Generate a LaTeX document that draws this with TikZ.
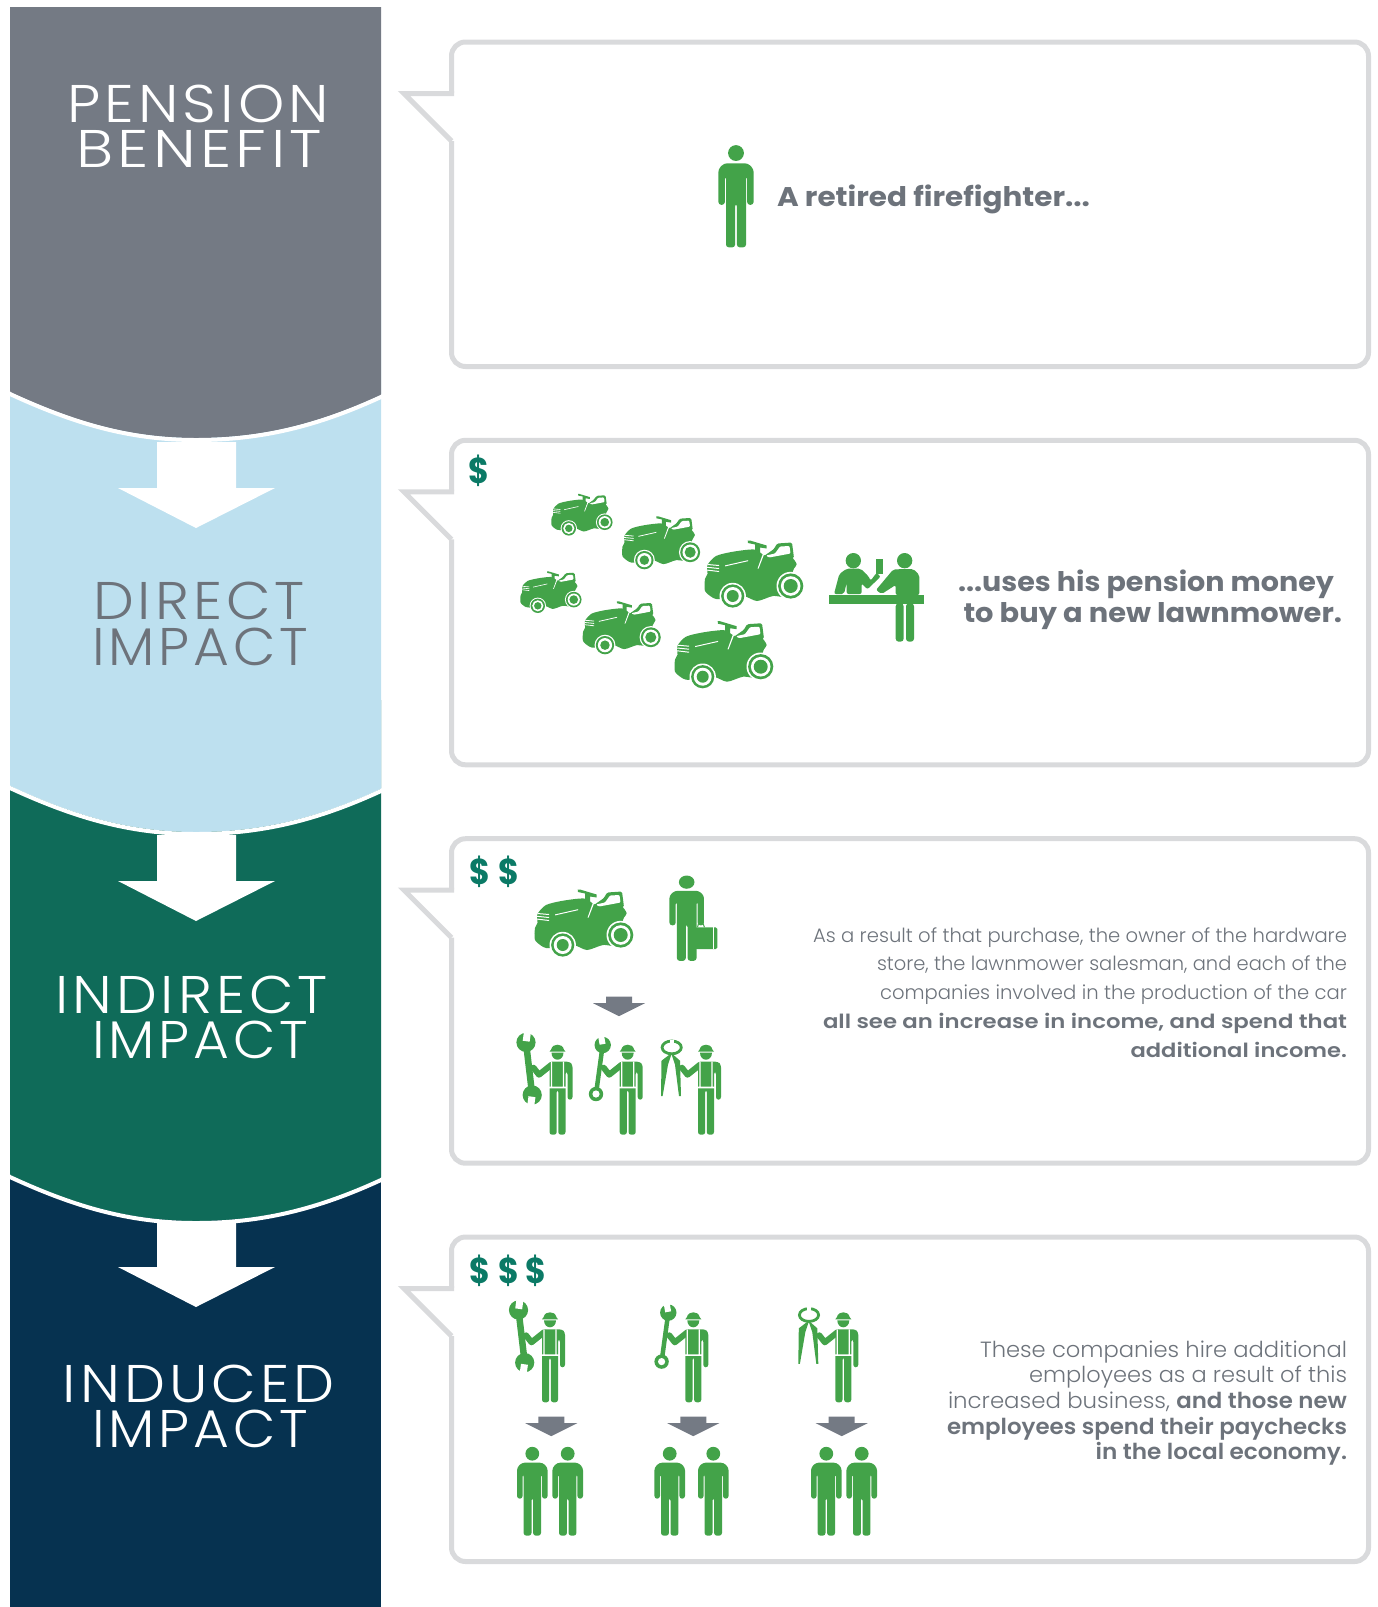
\documentclass[tikz,border=0pt]{standalone}
\usepackage{fontspec}
\usepackage{graphicx}
\setmainfont{Poppins}
\newfontfamily\flight{Poppins Light}
\newfontfamily\ftitle{Poppins Light}[LetterSpace=7]
\newfontfamily\fsemi{Poppins SemiBold}
\newfontfamily\fbold{Poppins Bold}
\definecolor{cgray}{HTML}{747A84}
\definecolor{cblue}{HTML}{BDE0EF}
\definecolor{cteal}{HTML}{0F6B59}
\definecolor{cnavy}{HTML}{063250}
\definecolor{ctext}{HTML}{6D737B}
\definecolor{cline}{HTML}{D9DADC}
\definecolor{cico}{HTML}{43A349}
\definecolor{cdol}{HTML}{0B7A66}
\newcommand\fitw[2]{\resizebox{#1pt}{\height}{#2}}
\newcommand\titlefont{\fontsize{53}{53}\selectfont\ftitle}
\newcommand\bodyfont{\fontsize{19.5}{20}\selectfont\flight}
\newcommand\bodyfontb{\fontsize{22}{22}\selectfont\flight}
\newcommand\bb[1]{{\fsemi #1}}
\tikzset{
  ttl/.style={anchor=base west,inner sep=0pt,outer sep=0pt},
  boxline/.style={draw=cline,line width=5pt},
  ico/.style={fill=cico},
  dollar/.style={anchor=base west,inner sep=0pt,text=cdol,font=\fontsize{36}{36}\selectfont\fbold},
  person/.pic={
    \fill[ico] (0,7) circle (6.9);
    \fill[ico,rounded corners=2.8pt] (-15.3,21) -- (-10.5,16) -- (10.5,16) -- (15.3,21) -- (15.3,52) -- (9.7,52) -- (9.7,27) -- (8.7,27) -- (8.7,89) -- (0.8,89) -- (0.8,51) -- (-0.8,51) -- (-0.8,89) -- (-8.7,89) -- (-8.7,27) -- (-9.7,27) -- (-9.7,52) -- (-15.3,52) -- cycle;
  },
  worker/.pic={
    \fill[ico] (-8,7) -- (-6.5,5) .. controls (-5.5,1) and (-2.5,0) .. (0,0) .. controls (2.5,0) and (5.5,1) .. (6.5,5) -- (8,7) -- cycle;
    \fill[ico] (-6,8) .. controls (-6,12.5) and (-3,15) .. (0,15) .. controls (3,15) and (6,12.5) .. (6,8) -- cycle;
    \fill[ico,rounded corners=2.6pt] (-8,17) -- (12,17) -- (15,20) -- (15,55) -- (10,55) -- (10,27) -- (8,27) -- (8,90) -- (0.8,90) -- (0.8,45) -- (-0.8,45) -- (-0.8,90) -- (-8,90) -- cycle;
    \draw[cico,line width=6pt,line cap=round,line join=round] (-6,20) -- (-18.5,30) -- (-24,23);
    \fill[white] (-6.6,17) rectangle (-5.4,42) (5.4,17) rectangle (6.6,42) (-9,42) rectangle (9,43.6);
  },
  wrencha/.pic={
    \draw[cico,line width=6.5pt] (-31.5,-2.3) -- (-25.3,50.3);
    \fill[ico] (-31.5,-2.3) circle (9.6) (-25.3,50.3) circle (9.6);
    \fill[white,rotate around={-8:(-31.5,-2.3)}] (-35,-13) rectangle (-28,-3.5);
    \fill[white,rotate around={-8:(-25.3,50.3)}] (-28.8,52) rectangle (-21.8,62);
  },
  wrenchb/.pic={
    \draw[cico,line width=4.5pt] (-25,0.3) -- (-31.7,49.3);
    \fill[ico] (-25,0.3) circle (8.2) (-31.7,49.3) circle (7.2);
    \fill[white,rotate around={10:(-25,0.3)}] (-28,-10) rectangle (-22,-0.5);
    \fill[white] (-31.7,49.3) circle (3.6);
  },
  pliers/.pic={
    \draw[cico,line width=2.8pt] (-34.3,2.7) ellipse (9.6 and 6.4);
    \fill[white] (-36.5,-5) rectangle (-32,0);
    \fill[ico] (-34,8) -- (-44.5,16) -- (-45,51.5) -- (-43.4,51.5) -- (-38,20) -- cycle;
    \fill[ico] (-35,8) -- (-26,16) -- (-25,51.5) -- (-27,51.5) -- (-31,20) -- cycle;
  },
  mower/.pic={
    \fill[ico,rounded corners=1.5pt] (60,15) -- (70,8) -- (73,2.5) -- (88,1.5) -- (90,17) -- (70,24) -- cycle;
    \fill[ico] (43.7,-0.5) -- (46,-0.5) -- (62.7,4.5) -- (62.7,7.5) -- (56,6.5) -- (56,12) -- (51,12) -- (51,3.5) -- (44,2) -- cycle;
    \fill[ico] plot[smooth cycle,tension=0.45] coordinates {(3.5,24) (12,15) (29,10.7) (50,8.5) (60,14) (72,17) (86,15) (92.7,23.3) (89,30) (86,55) (69,55) (53,60) (39,55) (16,58) (9.3,57) (1,50) (1,38) (3.5,33)};
    \fill[white,rounded corners=1pt] (62,14.5) -- (71,12.5) -- (76,5.5) -- (85.5,5) -- (86.5,12.5) -- (76,14.5) -- (65,16.5) -- cycle;
    \fill[white] (59.5,11) -- (61,11) -- (54.5,27.7) -- (53.5,27.7) -- cycle;
    \fill[white] (21,24.4) -- (44,19.2) -- (44,20.2) -- (21,25.4) -- cycle;
    \fill[white] (3.5,23) -- (15,24) -- (15,25) -- (3.5,24) -- cycle (3.2,25.8) -- (15,27) -- (15,28) -- (3.2,26.8) -- cycle (3.2,28.6) -- (15,30) -- (15,31) -- (3.2,29.6) -- cycle;
    \fill[white] (86.7,45) circle (14.2) (28.7,55) circle (13.2);
    \fill[ico] (86.7,45) circle (12.6) (28.7,55) circle (11.6);
    \fill[white] (86.7,45) circle (9.8) (28.7,55) circle (9);
    \fill[ico] (86.7,45) circle (7) (28.7,55) circle (6);
  },
  grayarrow/.pic={
    \fill[cgray] (-13,0) -- (13,0) -- (13,6.5) -- (26,6.5) -- (0,19.5) -- (-26,6.5) -- (-13,6.5) -- cycle;
  }
}
\newcommand\callout[1]{%
  \begin{scope}[shift={(0,#1)}]
    \draw[boxline,rounded corners=14pt] (451.5,51) -- (451.5,0) -- (1368.5,0) -- (1368.5,324.5) -- (451.5,324.5) -- (451.5,99);
    \draw[boxline,line join=miter] (451.5,99) -- (404,51.5) -- (454,51.5);
  \end{scope}}
\newcommand\whitearrow[1]{\fill[white] (157,#1) -- (236,#1) -- (236,#1+46) -- (275,#1+46) -- (196,#1+86) -- (118,#1+46) -- (157,#1+46) -- cycle;}
\newcommand\dlr{\scalebox{.88}[1]{\$}}
\begin{document}
\begin{tikzpicture}[x=1pt,y=-1pt]
\useasboundingbox (0,0) rectangle (1378,1607);
% column
\fill[cnavy] (10,1100) rectangle (381,1607);
\newcommand\sect[3]{% color, top, delta
  \fill[#1] (10,#2) -- (381,#2) -- (381,395+#3) .. controls (318,424+#3) and (262,438+#3) .. (196,438+#3) .. controls (130,438+#3) and (75,422+#3) .. (10,392+#3) -- cycle;
  \draw[white,line width=4pt] (5,390+#3) -- (10,394+#3) .. controls (75,424+#3) and (130,440+#3) .. (196,440+#3) .. controls (262,440+#3) and (318,426+#3) .. (381,397+#3) -- (386,394+#3);
}
\sect{cteal}{700}{783}
\sect{cblue}{300}{394}
\sect{cgray}{7}{0}
\whitearrow{442}
\whitearrow{835}
\whitearrow{1221}
% titles
\node[ttl,text=white] (t1a) at (67,122) {\fitw{262}{\titlefont PENSION}};
\node[ttl,text=white] (t1b) at (76,167) {\fitw{246}{\titlefont BENEFIT}};
\node[ttl,text=ctext] (t2a) at (93,619.5) {\fitw{212}{\titlefont DIRECT}};
\node[ttl,text=ctext] (t2b) at (92,665) {\fitw{216}{\titlefont IMPACT}};
\node[ttl,text=white] (t3a) at (55,1013.5) {\fitw{273}{\titlefont INDIRECT}};
\node[ttl,text=white] (t3b) at (92,1058.5) {\fitw{216}{\titlefont IMPACT}};
\node[ttl,text=white] (t4a) at (63,1402.5) {\fitw{272}{\titlefont INDUCED}};
\node[ttl,text=white] (t4b) at (92,1447.5) {\fitw{216}{\titlefont IMPACT}};
% callouts
\callout{42}
\callout{440.3}
\callout{838.7}
\callout{1237}
% box 1
\pic[scale=1.15] at (736,145) {person};
\node[ttl,text=ctext] (b1) at (777,206) {\fitw{313}{\fontsize{27}{27}\selectfont\fbold A retired firefighter...}};
% box 2
\node[dollar] (d1) at (468.5,483.5) {\dlr};
\pic at (551,494.3) [scale=.62] {mower};
\pic at (621.7,516.7) [scale=.79] {mower};
\pic at (704,541) {mower};
\pic at (520,571.7) [scale=.62] {mower};
\pic at (582.3,601.7) [scale=.79] {mower};
\pic at (674,621.7) {mower};
\begin{scope}[shift={(500,470)},scale=1/3]
  \fill[ico] (1060,272) circle (23) (1214,272) circle (23);
  \fill[ico] (1128,267) rectangle (1148,313);
  \fill[ico] (987,375) rectangle (1272,402);
  \fill[ico,rounded corners=2pt] (1002,372) -- (1018,312) -- (1040,296) -- (1082,296) -- (1105,318) -- (1112,332) -- (1130,308) -- (1142,320) -- (1102,358) -- (1085,340) -- (1085,372) -- (1040,372) -- (1040,338) -- (1032,372) -- cycle;
  \fill[ico,rounded corners=2pt] (1180,298) -- (1240,297) -- (1258,315) -- (1258,375) -- (1187,375) -- (1187,345) -- (1145,372) -- (1128,360) -- cycle;
  \fill[ico,rounded corners=3pt] (1187,400) rectangle (1211,515) (1218,400) rectangle (1242,515);
\end{scope}
\node[ttl,text=ctext] (b2a) at (958,591) {\fitw{376}{\fontsize{27}{27}\selectfont\fbold ...uses his pension money}};
\node[ttl,text=ctext] (b2b) at (963.5,622) {\fitw{378.5}{\fontsize{27}{27}\selectfont\fbold to buy a new lawnmower.}};
% box 3
\node[dollar] (d2a) at (469.5,884) {\dlr};
\node[dollar] (d2b) at (498.5,884) {\dlr};
\pic at (534,890) {mower};
\pic[xscale=1.13,yscale=.96] at (686.7,875.4) {person};
\fill[ico,rounded corners=1.5pt] (695,927.3) rectangle (717.3,949);
\fill[white] (712.6,927.3) rectangle (713.3,949);
\draw[cico,line width=1pt] (697.5,927.3) -- (698.5,923.5) -- (703,923.5) -- (704.5,927.3);
\pic at (619,996.7) {grayarrow};
\pic at (557.5,1044.7) {worker};
\pic at (557.5,1044.7) {wrencha};
\pic at (627.7,1044.7) {worker};
\pic at (627.7,1044.7) {wrenchb};
\pic at (706,1044.7) {worker};
\pic at (706,1044.7) {pliers};
\node[ttl,text=ctext] (b3a) at (813,942) {\fitw{534}{\bodyfont As a result of that purchase, the owner of the hardware}};
\node[ttl,text=ctext] (b3b) at (877,970.5) {\fitw{470}{\bodyfont store, the lawnmower salesman, and each of the}};
\node[ttl,text=ctext] (b3c) at (880,999.5) {\fitw{467}{\bodyfont companies involved in the production of the car}};
\node[ttl,text=ctext] (b3d) at (823,1028) {\fitw{524}{\bodyfont\bb{all see an increase in income, and spend that}}};
\node[ttl,text=ctext] (b3e) at (1130.5,1057.5) {\fitw{216.5}{\bodyfont\bb{additional income.}}};
% box 4
\node[dollar] (d3a) at (469.5,1283) {\dlr};
\node[dollar] (d3b) at (498.5,1283) {\dlr};
\node[dollar] (d3c) at (525,1283) {\dlr};
\pic at (550,1312.3) {worker};
\pic at (550,1312.3) {wrencha};
\pic at (693.3,1312.3) {worker};
\pic at (693.3,1312.3) {wrenchb};
\pic at (843.3,1312.3) {worker};
\pic at (843.3,1312.3) {pliers};
\pic at (551.3,1416.7) {grayarrow};
\pic at (693.3,1416.7) {grayarrow};
\pic at (841.7,1416.7) {grayarrow};
\pic at (532.3,1446.7) {person};
\pic at (567.7,1446.7) {person};
\pic at (669.7,1446.7) {person};
\pic at (713.3,1446.7) {person};
\pic at (826.3,1446.7) {person};
\pic at (861.7,1446.7) {person};
\node[ttl,text=ctext] (b4a) at (980,1357) {\fitw{367}{\bodyfontb These companies hire additional}};
\node[ttl,text=ctext] (b4b) at (1029,1382.6) {\fitw{318}{\bodyfontb employees as a result of this}};
\node[ttl,text=ctext] (b4c) at (948,1408) {\fitw{399}{\bodyfontb increased business, \bb{and those new}}};
\node[ttl,text=ctext] (b4d) at (947,1434) {\fitw{400}{\bodyfontb\bb{employees spend their paychecks}}};
\node[ttl,text=ctext] (b4e) at (1095.6,1459.5) {\fitw{251.4}{\bodyfontb\bb{in the local economy.}}};
\end{tikzpicture}
\end{document}
